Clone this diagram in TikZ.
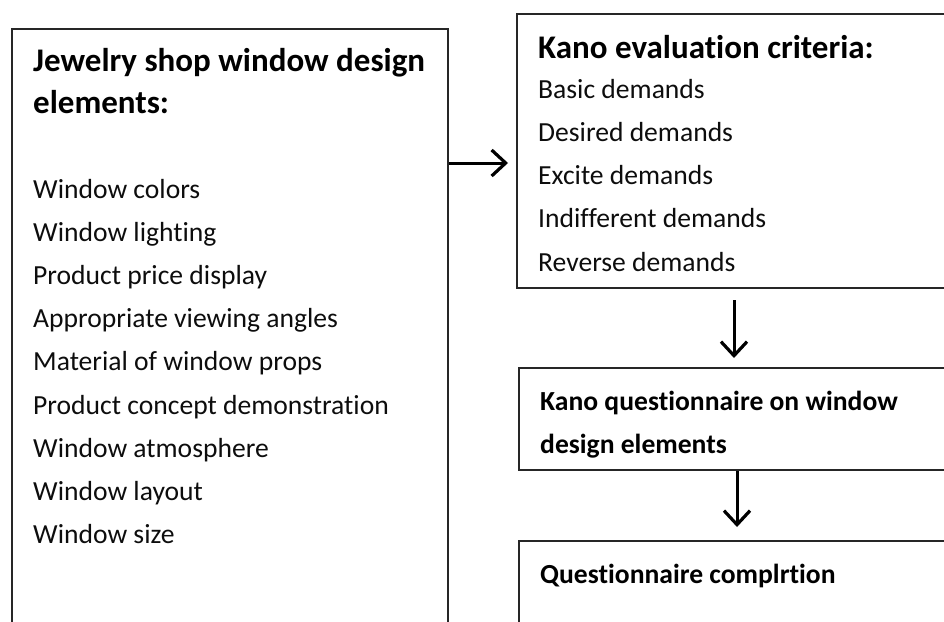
\documentclass[tikz,border=0pt]{standalone}
\usepackage{fontspec}
\setmainfont{Carlito}[RawFeature={-liga;-dlig;-clig}]
\usetikzlibrary{arrows.meta,positioning}

\tikzset{
  stage/.style={draw=black!85, line width=2pt, anchor=north west, inner sep=0pt},
  head/.style={anchor=base west, inner sep=0pt, text=black,
    font=\fontsize{33}{33}\selectfont\bfseries},
  subhead/.style={head, font=\fontsize{27.6}{27.6}\selectfont\bfseries},
  item/.style={anchor=base west, inner sep=0pt, text=black!95,
    font=\fontsize{27.6}{27.6}\selectfont},
  flow/.style={draw=black, line width=3pt,
    -{Straight Barb[length=14pt,width=26pt,line width=3.2pt]}}
}

\begin{document}
\begin{tikzpicture}[x=1pt, y=-1pt]
  \useasboundingbox (0,0) rectangle (944,621);
  \clip (0,0) rectangle (944,621);

  % boxes, cut off by the page on the right and at the bottom
  \node[stage, minimum width=436pt, minimum height=610pt] (elements) at (11,28) {};
  \node[stage, minimum width=460pt, minimum height=274pt] (crit) at (516,13) {};
  \node[stage, minimum width=460pt, minimum height=102pt] (survey) at (518,367) {};
  \node[stage, minimum width=460pt, minimum height=120pt] (done) at (518,540) {};

  % design elements
  \node[head] (el-h1) at (33,71) {Jewelry shop window design};
  \node[head] (el-h2) at (33,113) {elements:};
  \foreach \t [count=\i from 0] in {Window colors, Window lighting,
      Product price display, Appropriate viewing angles,
      Material of window props, Product concept demonstration,
      Window atmosphere, Window layout, Window size}
    \node[item] (el-\i) at (33,{198+43.2*\i}) {\t};

  % Kano criteria
  \node[head] (cr-h) at (538,58) {Kano evaluation criteria:};
  \foreach \t [count=\i from 0] in {Basic demands, Desired demands,
      Excite demands, Indifferent demands, Reverse demands}
    \node[item] (cr-\i) at (538,{98+43.3*\i}) {\t};

  % questionnaire steps
  \node[subhead] (sv-1) at (540,410) {Kano questionnaire on window};
  \node[subhead] (sv-2) at (540,453) {design elements};
  \node[subhead] (dn-1) at (540,583) {Questionnaire complrtion};

  % connectors
  \coordinate (tap) at (elements.east |- 0,163);
  \path[flow, shorten >=8pt] (tap) -- (tap -| crit.west);
  \path[flow, shorten <=11pt, shorten >=9pt] (crit.south -| 734,0) -- (survey.north -| 734,0);
  \path[flow, shorten >=13pt] (survey.south -| 737,0) -- (done.north -| 737,0);
\end{tikzpicture}
\end{document}
